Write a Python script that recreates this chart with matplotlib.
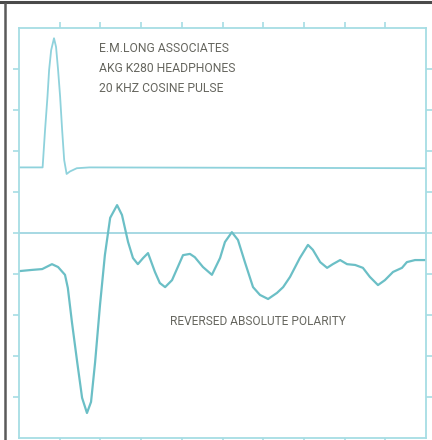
import numpy as np
import matplotlib.pyplot as plt
from matplotlib.lines import Line2D

# screen divisions (10 x 10 graticule)
pulse_t = [0.00, 0.58, 0.64, 0.70, 0.74, 0.79, 0.86, 0.91, 0.96, 1.01, 1.06,
           1.11, 1.17, 1.25, 1.42, 1.73, 10.00]
pulse_v = [6.60, 6.60, 7.51, 8.33, 8.98, 9.46, 9.75, 9.54, 8.98, 8.33, 7.51,
           6.78, 6.44, 6.50, 6.58, 6.60, 6.58]

resp_t = [0.00, 0.32, 0.57, 0.81, 0.96, 1.13, 1.20, 1.30, 1.43, 1.55, 1.67,
          1.77, 1.87, 1.99, 2.11, 2.24, 2.41, 2.53, 2.68, 2.80, 2.92, 3.05,
          3.17, 3.34, 3.46, 3.59, 3.76, 4.03, 4.20, 4.32, 4.52, 4.74, 4.94,
          5.06, 5.23, 5.38, 5.55, 5.75, 5.92, 6.12, 6.34, 6.49, 6.66, 6.90,
          7.10, 7.22, 7.40, 7.57, 7.71, 7.89, 8.06, 8.26, 8.45, 8.62, 8.82,
          8.99, 9.19, 9.41, 9.53, 9.73, 10.00]
resp_v = [4.07, 4.10, 4.12, 4.24, 4.17, 3.98, 3.66, 2.83, 1.85, 0.98, 0.61,
          0.88, 1.85, 3.24, 4.46, 5.37, 5.68, 5.44, 4.78, 4.39, 4.24, 4.39,
          4.51, 4.05, 3.78, 3.68, 3.85, 4.46, 4.49, 4.41, 4.17, 3.98, 4.39,
          4.78, 5.02, 4.83, 4.29, 3.68, 3.49, 3.39, 3.54, 3.68, 3.93, 4.39,
          4.71, 4.59, 4.29, 4.15, 4.24, 4.34, 4.24, 4.22, 4.15, 3.93, 3.73,
          3.85, 4.05, 4.15, 4.29, 4.34, 4.34]

ref_level = 5.0
label_lines = ['E.M.LONG ASSOCIATES', 'AKG K280 HEADPHONES', '20 KHZ COSINE PULSE']
bottom_label = 'REVERSED ABSOLUTE POLARITY'

cyan = '#a6dde4'
font = ['Roboto', 'DejaVu Sans']

fig = plt.figure(figsize=(4.32, 4.40), dpi=100)
ax = fig.add_axes([19/432, 2/440, 407/432, 410/440])

ax.axhline(ref_level, color='#9fd6e0', lw=1.3)
ax.plot(pulse_t, pulse_v, color='#8fd2dc', lw=1.3)
ax.plot(resp_t, resp_v, color='#6bbfc6', lw=1.6)

ax.set_xlim(0, 10)
ax.set_ylim(0, 10)
ax.set_xticks(range(1, 10))
ax.set_yticks(range(1, 10))
ax.tick_params(direction='out', length=4, width=1.2, color=cyan,
               top=True, right=True, labelbottom=False, labelleft=False)
for s in ax.spines.values():
    s.set_color(cyan)
    s.set_linewidth(1.3)

texts = []
for i, txt in enumerate(label_lines):
    t = ax.text(1.97, 9.51 - i*0.49, txt, family=font, fontsize=10,
                color='#66665f', va='center', ha='left')
    texts.append((t, 129))
t = ax.text(3.71, 2.85, bottom_label, family=font, fontsize=10,
            color='#66665f', va='center', ha='left')
texts.append((t, 175))

# shrink text so it spans about the same width as the condensed lettering
r = fig.canvas.get_renderer()
w0 = texts[0][0].get_window_extent(r).width
wb = texts[-1][0].get_window_extent(r).width
for t, target in texts[:-1]:
    t.set_fontsize(10 * target / w0)
texts[-1][0].set_fontsize(10 * texts[-1][1] / wb)

# scanned page border
fig.add_artist(Line2D([0, 1], [1 - 2.5/440, 1 - 2.5/440], color='#4a4a4a', lw=2.2))
fig.add_artist(Line2D([5/432, 5/432], [0, 1 - 4/440], color='#5a5a5a', lw=1.8))

fig.savefig('out.png', dpi=100)
